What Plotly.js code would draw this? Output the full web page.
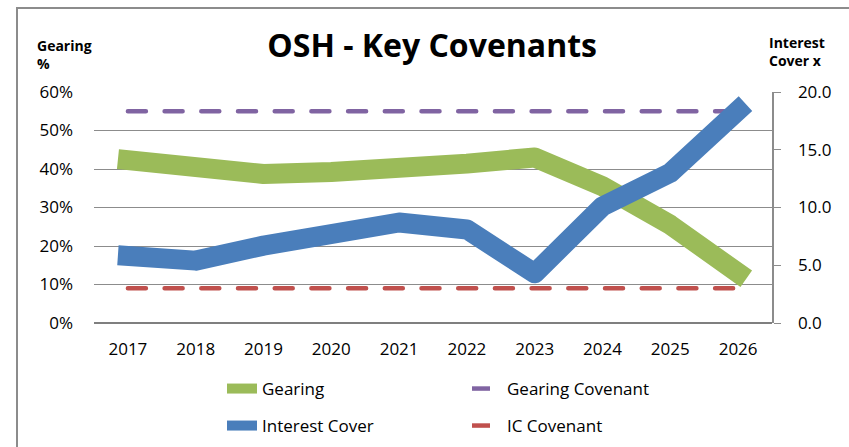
<!DOCTYPE html>
<html>
<head>
<meta charset="utf-8">
<script src="https://cdn.plot.ly/plotly-3.0.1.min.js"></script>
<style>html,body{margin:0;padding:0;background:#fff;} #chart{width:849px;height:447px;}</style>
</head>
<body>
<div id="chart"></div>
<script>
const years = ['2017','2018','2019','2020','2021','2022','2023','2024','2025','2026'];
const gearing = [42.3, 41.0, 38.7, 39.2, 39.9, 41.4, 43.0, 35.5, 25.5, 13.0];
const interestCover = [5.8, 5.4, 6.7, 7.5, 8.7, 8.1, 4.3, 10.1, 13.0, 18.4];
const gearingCovenant = [55, 55, 55, 55, 55, 55, 55, 55, 55, 55];
const icCovenant = [3.0, 3.0, 3.0, 3.0, 3.0, 3.0, 3.0, 3.0, 3.0, 3.0];
const yTicksLeft = [0, 10, 20, 30, 40, 50, 60];
const yTicksRight = [0, 5, 10, 15, 20];

const FONT = 'Open Sans, Lato, sans-serif';
const GREEN = '#9BBB59', BLUE = '#4A7EBB', PURPLE = '#8064A2', RED = '#C0504D';

const traces = [
  {x: years, y: gearingCovenant, name: 'Gearing Covenant', type: 'scatter', mode: 'lines',
   line: {color: PURPLE, width: 4.5, dash: '18px,18.7px'}, yaxis: 'y', legend: 'legend', legendrank: 2, hoverinfo: 'skip'},
  {x: years, y: gearing, name: 'Gearing', type: 'scatter', mode: 'lines',
   line: {color: GREEN, width: 20}, yaxis: 'y', legend: 'legend', legendrank: 1},
  {x: years, y: icCovenant, name: 'IC Covenant', type: 'scatter', mode: 'lines',
   line: {color: RED, width: 4.5, dash: '18px,18.7px'}, yaxis: 'y2', legend: 'legend2', legendrank: 2, hoverinfo: 'skip'},
  {x: years, y: interestCover, name: 'Interest Cover', type: 'scatter', mode: 'lines',
   line: {color: BLUE, width: 20}, yaxis: 'y2', legend: 'legend2', legendrank: 1}
];

const layout = {
  width: 849, height: 447,
  margin: {l: 94, r: 77, t: 92, b: 124, autoexpand: false},
  paper_bgcolor: '#ffffff', plot_bgcolor: '#ffffff',
  font: {family: FONT, color: '#000'},
  title: {text: '<b>OSH - Key Covenants</b>', font: {family: FONT, size: 32, color: '#000'},
          x: 0.509, xref: 'container', xanchor: 'center', y: 1 - 46/447, yref: 'container', yanchor: 'middle'},
  xaxis: {type: 'category', range: [-0.5, 9.5], showgrid: false, zeroline: false, showline: false,
          ticks: '', tickfont: {family: FONT, size: 17, color: '#000'}, ticklabelstandoff: 14, fixedrange: true},
  yaxis: {range: [0, 60], tickvals: yTicksLeft, ticktext: yTicksLeft.map(v => v + '%'),
          showgrid: true, gridcolor: '#8c8c8c', gridwidth: 1, zeroline: true, zerolinecolor: '#7f7f7f', zerolinewidth: 1.5,
          showline: false, ticks: '', tickfont: {family: FONT, size: 17, color: '#000'}, ticklabelstandoff: 20, fixedrange: true},
  yaxis2: {range: [0, 20], overlaying: 'y', side: 'right', tickvals: yTicksRight, ticktext: yTicksRight.map(v => v.toFixed(1)),
           showgrid: false, zeroline: false, showline: true, linecolor: '#8c8c8c', linewidth: 1.5,
           ticks: 'outside', ticklen: 7, tickcolor: '#8c8c8c', tickwidth: 1,
           tickfont: {family: FONT, size: 17, color: '#000'}, ticklabelstandoff: 14, fixedrange: true},
  legend: {orientation: 'h', x: (222 - 94) / 678, xanchor: 'left', y: (323 - 389) / 231, yanchor: 'middle',
           entrywidth: 200, entrywidthmode: 'pixels', font: {family: FONT, size: 17, color: '#000'}, bgcolor: 'rgba(0,0,0,0)'},
  legend2: {orientation: 'h', x: (222 - 94) / 678, xanchor: 'left', y: (323 - 426) / 231, yanchor: 'middle',
           entrywidth: 200, entrywidthmode: 'pixels', font: {family: FONT, size: 17, color: '#000'}, bgcolor: 'rgba(0,0,0,0)'},
  annotations: [
    {text: '<b>Gearing</b><br><b>%</b>', xref: 'paper', yref: 'paper', x: (35 - 94) / 678, y: 1 + (92 - 34) / 231,
     xanchor: 'left', yanchor: 'top', align: 'left', showarrow: false, font: {family: FONT, size: 14, color: '#000'}},
    {text: '<b>Interest</b><br><b>Cover x</b>', xref: 'paper', yref: 'paper', x: (767 - 94) / 678, y: 1 + (92 - 31) / 231,
     xanchor: 'left', yanchor: 'top', align: 'left', showarrow: false, font: {family: FONT, size: 14, color: '#000'}}
  ],
  shapes: [
    {type: 'rect', xref: 'paper', yref: 'paper', x0: (17 - 94) / 678, x1: 1.5, y0: -1, y1: 1 + (92 - 8) / 231,
     line: {color: '#8c8c8c', width: 2}, fillcolor: 'rgba(0,0,0,0)', layer: 'below'}
  ],
  showlegend: true
};

Plotly.newPlot('chart', traces, layout, {displayModeBar: false, staticPlot: true}).then(() => {
  document.querySelectorAll('.scatterlayer .js-line').forEach(p => {
    const w = parseFloat(p.style.strokeWidth);
    if (w >= 10) { p.style.strokeLinecap = 'square'; p.style.strokeLinejoin = 'round'; }
    else { p.style.strokeLinecap = 'round'; }
  });
});
</script>
</body>
</html>
